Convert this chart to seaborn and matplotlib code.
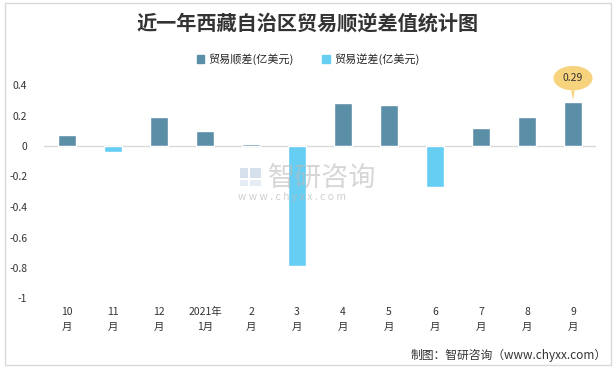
import matplotlib
matplotlib.use('Agg')
import matplotlib.pyplot as plt
import seaborn as sns
import pandas as pd
from matplotlib.patches import Patch, Rectangle

sns.set_theme(style='white')
plt.rcParams['font.family'] = ['Noto Sans CJK SC', 'DejaVu Sans']

# data
months = ['10\n月', '11\n月', '12\n月', '2021年\n1月', '2\n月', '3\n月',
          '4\n月', '5\n月', '6\n月', '7\n月', '8\n月', '9\n月']
values = [0.07, -0.04, 0.19, 0.10, 0.01, -0.79, 0.28, 0.27, -0.27, 0.12, 0.19, 0.29]
surplus_name = '贸易顺差(亿美元)'
deficit_name = '贸易逆差(亿美元)'
yticks = [0.4, 0.2, 0, -0.2, -0.4, -0.6, -0.8, -1]
ytick_labels = ['0.4', '0.2', '0', '-0.2', '-0.4', '-0.6', '-0.8', '-1']

c_pos = '#5B8FA8'
c_neg = '#66CDF3'

df = pd.DataFrame({'month': months, 'value': values})
df['type'] = [surplus_name if v >= 0 else deficit_name for v in values]

fig = plt.figure(figsize=(6.16, 3.68), dpi=100)
ax = fig.add_axes([44/616, 1-298.5/368, 552/616, 213.5/368])

sns.barplot(data=df, x='month', y='value', hue='type', order=months,
            hue_order=[surplus_name, deficit_name],
            palette={surplus_name: c_pos, deficit_name: c_neg},
            dodge=False, width=0.39, saturation=1, ax=ax, legend=False)

ax.set_ylim(-1, 0.4)
ax.set_xlim(-0.5, len(months) - 0.5)
ax.axhline(0, color='#D9D9D9', lw=1, zorder=0)
for s in ax.spines.values():
    s.set_visible(False)
ax.set_yticks(yticks)
ax.set_yticklabels(ytick_labels, fontsize=7.5, color='#333333')
ax.tick_params(axis='y', length=0, pad=12)
ax.tick_params(axis='x', length=0, pad=6)
ax.set_xticks(range(len(months)))
ax.set_xticklabels(months, fontsize=7.5, color='#333333', linespacing=1.6)
ax.set_xlabel('')
ax.set_ylabel('')

# callout on the last bar
ax.annotate(f'{values[-1]:.2f}', xy=(len(months) - 1, values[-1]),
            xytext=(0, 17), textcoords='offset points', ha='center', va='center',
            fontsize=7.5, color='#333333',
            bbox=dict(boxstyle='ellipse,pad=0.35', fc='#F7D37E', ec='none'),
            arrowprops=dict(arrowstyle='wedge,tail_width=0.35', fc='#F7D37E', ec='none',
                            shrinkA=0, shrinkB=1),
            annotation_clip=False)

fig.text(0.5, 1-23/368, '近一年西藏自治区贸易顺逆差值统计图', ha='center', va='center',
         fontsize=14.5, fontweight='bold', color='#333333')

handles = [Patch(color=c_pos, label=surplus_name), Patch(color=c_neg, label=deficit_name)]
fig.legend(handles=handles, loc='center', bbox_to_anchor=(0.5, 1-59/368), ncol=2,
           frameon=False, fontsize=8, handlelength=0.7, handleheight=0.7,
           handletextpad=0.4, columnspacing=2.5)

# watermark
fig.text(268/616, 1-178/368, '智研咨询', ha='left', va='center', fontsize=19.5,
         color='#BBBBBB', alpha=0.6)
fig.text(238/616, 1-197/368, 'w w w . c h y x x . c o m', ha='left', va='center',
         fontsize=7.5, color='#BBBBBB', alpha=0.7)
# little logo blocks
for (lx, ly, lw, lh, lc) in [(240, 168, 8, 10, '#C5D3E6'), (250, 168, 11, 10, '#C5D3E6'),
                             (240, 180, 8, 6, '#D9E4F0'), (250, 180, 11, 6, '#D9E4F0')]:
    fig.patches.append(Rectangle((lx/616, 1-(ly+lh)/368), lw/616, lh/368,
                                 transform=fig.transFigure, fc=lc, ec='none', alpha=0.7))

fig.text(607/616, 1-355/368, '制图：智研咨询（www.chyxx.com）', ha='right', va='center',
         fontsize=8.5, color='#333333')

fig.patches.append(Rectangle((5/616, 3/368), 606/616, 362/368, transform=fig.transFigure,
                             fill=False, ec='#D9D9D9', lw=1))

fig.savefig('out.png', dpi=100)
